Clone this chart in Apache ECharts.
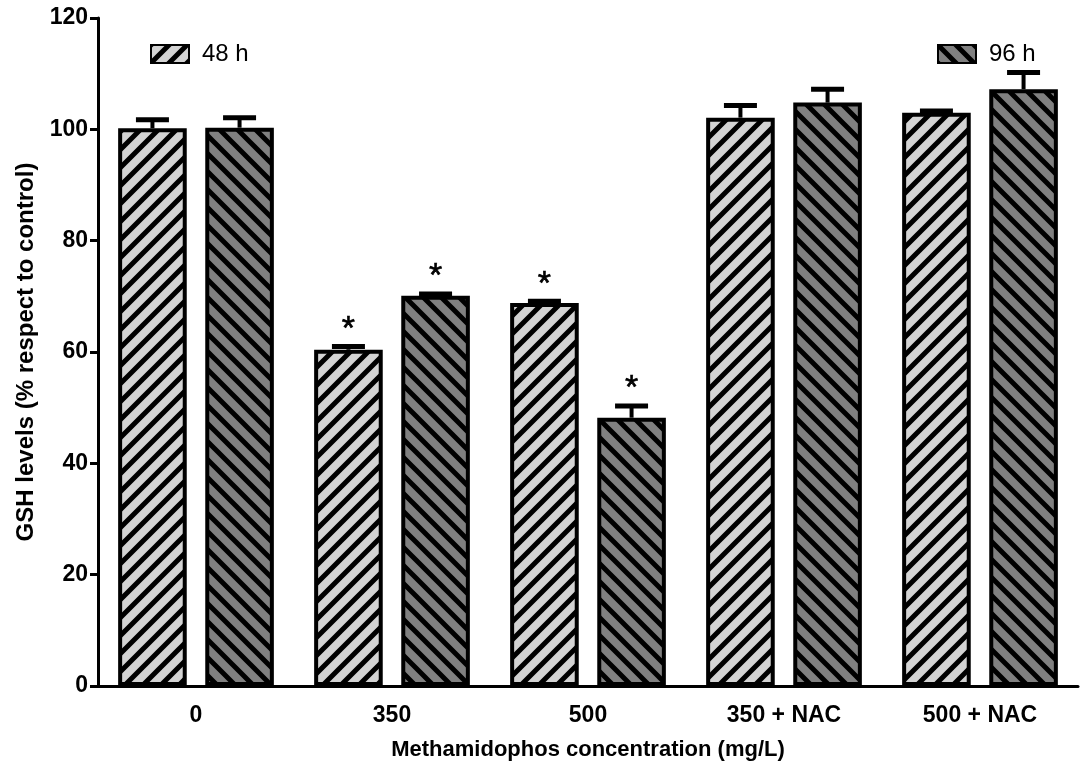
<!DOCTYPE html>
<html>
<head>
<meta charset="utf-8">
<script src="https://cdn.jsdelivr.net/npm/echarts@6/dist/echarts.min.js"></script>
<style>
html,body{margin:0;padding:0;background:#fff;}
#chart{width:1083px;height:771px;}
</style>
</head>
<body>
<div id="chart"></div>
<script>
var categories = ['0', '350', '500', '350 + NAC', '500 + NAC'];
var seriesNames = ['48 h', '96 h'];
var values48 = [100.2, 60.4, 68.8, 102.1, 103.0];
var errors48 = [1.5, 0.6, 0.3, 2.2, 0.3];
var values96 = [100.3, 70.1, 48.2, 104.8, 107.2];
var errors96 = [1.8, 0.3, 2.1, 2.4, 3.0];
var sig48 = [false, true, true, false, false];
var sig96 = [false, true, true, false, false];
var yTicks = [0, 20, 40, 60, 80, 100, 120];

var FONT = 'Liberation Sans, Arial, Helvetica, sans-serif';

// '/' lines: x + y = const ; '\' lines: x - y = const
function makePattern(bg, dir) {
  var s = 18;
  var c = document.createElement('canvas');
  c.width = s; c.height = s;
  var ctx = c.getContext('2d');
  ctx.fillStyle = bg;
  ctx.fillRect(0, 0, s, s);
  ctx.strokeStyle = '#000';
  ctx.lineWidth = 5;
  ctx.lineCap = 'square';
  ctx.beginPath();
  [0, s, 2 * s].forEach(function (k) {
    if (dir === '/') {
      ctx.moveTo(k + s, -s);
      ctx.lineTo(k - 2 * s, 2 * s);
    } else {
      var d = k - s;
      ctx.moveTo(d - s, -s);
      ctx.lineTo(d + 2 * s, 2 * s);
    }
  });
  ctx.stroke();
  return c;
}

var pat48 = { image: makePattern('#d3d3d3', '/'), repeat: 'repeat' };
var pat96 = { image: makePattern('#808080', '\\'), repeat: 'repeat' };

var BAR_W = 0.35, BAR_GAP = 0.27;

function errData(vals, errs, sigs) {
  return vals.map(function (v, i) { return [i, v, errs[i], sigs[i] ? 1 : 0]; });
}

function makeErrRender(sign) {
  return function (params, api) {
    var idx = api.value(0), val = api.value(1), err = api.value(2), sig = api.value(3);
    var band = api.size([1, 0])[0];
    var off = sign * band * (BAR_W / 2 + BAR_W * BAR_GAP / 2);
    var base = api.coord([idx, val]);
    var top = api.coord([idx, val + err]);
    var x = base[0] + off;
    var capW = 33;
    var children = [
      { type: 'line', shape: { x1: x, y1: base[1], x2: x, y2: top[1] }, style: { stroke: '#000', lineWidth: 4 } },
      { type: 'line', shape: { x1: x - capW / 2, y1: top[1], x2: x + capW / 2, y2: top[1] }, style: { stroke: '#000', lineWidth: 5 } }
    ];
    if (sig) {
      children.push({
        type: 'text',
        style: { text: '*', x: x, y: top[1] - 17, fill: '#000', font: '34px ' + FONT, align: 'center', verticalAlign: 'middle', stroke: '#000', lineWidth: 0.6 }
      });
    }
    return { type: 'group', children: children };
  };
}

var chart = echarts.init(document.getElementById('chart'));
chart.setOption({
  animation: false,
  backgroundColor: '#fff',
  grid: { left: 98, right: 5, top: 18, bottom: 85, containLabel: false },
  legend: [
    {
      data: [seriesNames[0]], left: 145, top: 37, itemWidth: 38, itemHeight: 18, icon: 'rect',
      textStyle: { fontFamily: FONT, fontSize: 24, color: '#000', padding: [0, 0, 0, 8] },
      selectedMode: false
    },
    {
      data: [seriesNames[1]], left: 932, top: 37, itemWidth: 38, itemHeight: 18, icon: 'rect',
      textStyle: { fontFamily: FONT, fontSize: 24, color: '#000', padding: [0, 0, 0, 8] },
      selectedMode: false
    }
  ],
  xAxis: {
    type: 'category',
    data: categories,
    axisLine: { lineStyle: { color: '#000', width: 3 } },
    axisTick: { alignWithLabel: true, length: 8, lineStyle: { color: '#000', width: 3 } },
    axisLabel: { fontFamily: FONT, fontSize: 23, fontWeight: 'bold', color: '#000', margin: 18 },
    name: 'Methamidophos concentration (mg/L)',
    nameLocation: 'middle',
    nameGap: 53,
    nameTextStyle: { fontFamily: FONT, fontSize: 22, fontWeight: 'bold', color: '#000' }
  },
  yAxis: {
    type: 'value',
    min: yTicks[0], max: yTicks[yTicks.length - 1], interval: yTicks[1] - yTicks[0],
    axisLine: { show: true, lineStyle: { color: '#000', width: 3 } },
    axisTick: { show: true, length: 8, lineStyle: { color: '#000', width: 3 } },
    splitLine: { show: false },
    axisLabel: { fontFamily: FONT, fontSize: 23, fontWeight: 'bold', color: '#000', margin: 10 },
    name: 'GSH levels (% respect to control)',
    nameLocation: 'middle',
    nameGap: 57,
    nameTextStyle: { fontFamily: FONT, fontSize: 24, fontWeight: 'bold', color: '#000' }
  },
  series: [
    {
      name: seriesNames[0], type: 'bar', data: values48,
      barWidth: (BAR_W * 100) + '%', barGap: (BAR_GAP * 100) + '%',
      itemStyle: { color: pat48, borderColor: '#000', borderWidth: 4 },
      z: 2
    },
    {
      name: seriesNames[1], type: 'bar', data: values96,
      barWidth: (BAR_W * 100) + '%', barGap: (BAR_GAP * 100) + '%',
      itemStyle: { color: pat96, borderColor: '#000', borderWidth: 4 },
      z: 2
    },
    {
      name: 'err48', type: 'custom', data: errData(values48, errors48, sig48),
      encode: { x: 0, y: 1 }, renderItem: makeErrRender(-1), z: 3, silent: true
    },
    {
      name: 'err96', type: 'custom', data: errData(values96, errors96, sig96),
      encode: { x: 0, y: 1 }, renderItem: makeErrRender(1), z: 3, silent: true
    }
  ]
});
</script>
</body>
</html>
